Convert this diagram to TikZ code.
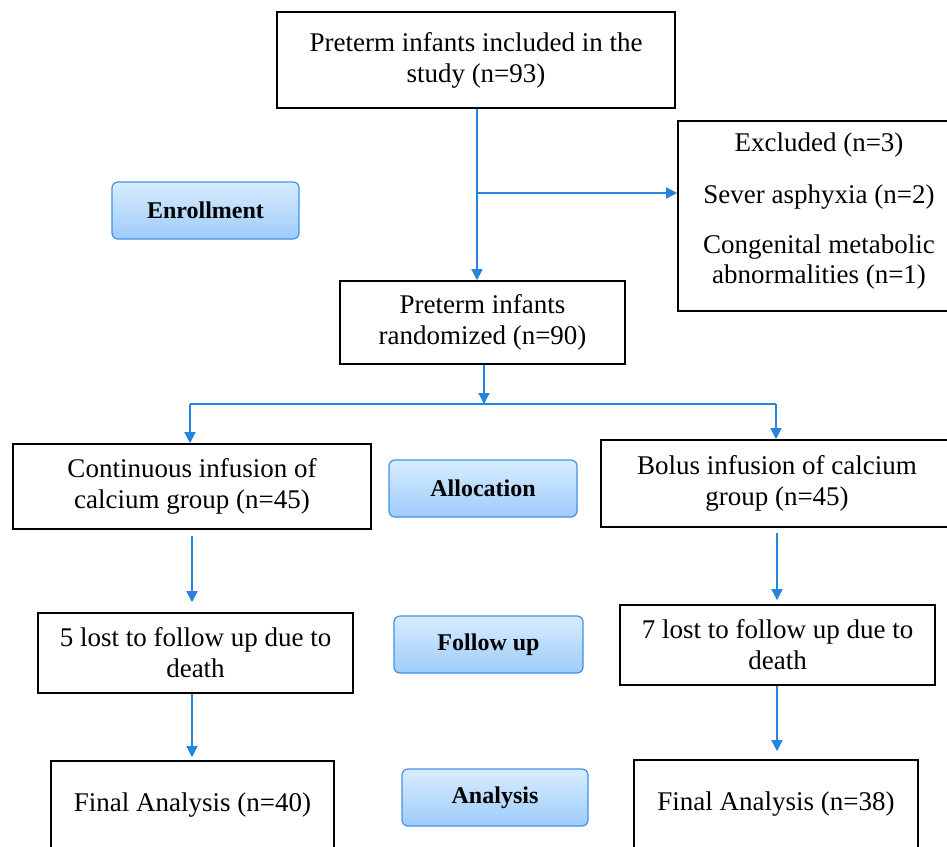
\documentclass[tikz,border=0pt]{standalone}
\usepackage{fontspec}
\setmainfont{Liberation Serif}
\usetikzlibrary{arrows.meta,calc}
\definecolor{lineblue}{RGB}{38,132,220}
\definecolor{btop}{RGB}{216,236,255}
\definecolor{bbot}{RGB}{158,204,250}
\definecolor{bborder}{RGB}{66,146,228}
\begin{document}
\begin{tikzpicture}[x=1pt,y=-1pt,
  box/.style={draw=black, line width=1.6pt, align=center, inner sep=0pt, font=\fontsize{27}{31}\selectfont},
  txt/.style={align=center, inner sep=0pt, font=\fontsize{27}{30}\selectfont},
  btn/.style={draw=bborder, line width=1.2pt, rounded corners=6pt, top color=btop, bottom color=bbot, font=\bfseries\fontsize{24}{28}\selectfont, inner sep=0pt},
  conn/.style={draw=lineblue, line width=1.3pt, -{Triangle[width=11pt,length=11pt]}},
  link/.style={draw=lineblue, line width=1.3pt}]
\useasboundingbox (0,0) rectangle (947,846);
\fill[white] (0,0) rectangle (947,846);
\clip (0,0) rectangle (947,846);

% boxes
\node[box, minimum width=398, minimum height=96] (top) at (476,60) {Preterm infants included in the\\study (n=93)};
\node[box, minimum width=282, minimum height=190] (excl) at (819,216) {};
\node[txt] (excltxt) at (819,211) {Excluded (n=3)\\[22pt]Sever asphyxia (n=2)\\[20pt]Congenital metabolic\\abnormalities (n=1)};
\node[box, minimum width=285, minimum height=83] (rand) at (482.5,322.5) {Preterm infants\\randomized (n=90)};
\node[box, minimum width=358, minimum height=85] (cont) at (192,486.5) {Continuous infusion of\\calcium group (n=45)};
\node[box, minimum width=352, minimum height=87] (bolus) at (777,483.5) {Bolus infusion of calcium\\group (n=45)};
\node[box, minimum width=315, minimum height=80] (lost5) at (195.5,653) {5 lost to follow up due to\\death};
\node[box, minimum width=315, minimum height=80] (lost7) at (777.5,645) {7 lost to follow up due to\\death};
\node[box, minimum width=283, minimum height=88] (fin40) at (192.5,805) {Final Analysis (n=40)};
\node[box, minimum width=284, minimum height=88] (fin38) at (776,804) {Final Analysis (n=38)};

% buttons
\node[btn, minimum width=187, minimum height=57] (enroll) at (205.5,210.5) {Enrollment};
\node[btn, minimum width=188, minimum height=57] (alloc) at (483,488.5) {Allocation};
\node[btn, minimum width=189, minimum height=57] (follow) at (488.5,644.5) {Follow up};
\node[btn, minimum width=186, minimum height=57] (analysis) at (495,797.5) {Analysis};

% connectors
\coordinate (br) at (477,193);
\draw[link] (br |- top.south) -- (br);
\draw[conn] (br) -- (br |- rand.north);
\draw[conn] (br) -- (br -| excl.west);

\coordinate (sp) at (484,404);
\coordinate (sl) at (190,404);
\coordinate (sr) at (776,404);
\draw[conn] (sp |- rand.south) -- (sp);
\draw[link] (sl) -- (sr);
\draw[conn] (sl) -- (sl |- cont.north);
\draw[conn] (sr) -- (sr |- bolus.north);

\draw[conn, shorten <=6pt, shorten >=10pt] (cont.south) -- (cont.south |- lost5.north);
\draw[conn, shorten <=5pt, shorten >=4pt] (bolus.south) -- (bolus.south |- lost7.north);
\draw[conn, shorten >=3pt] (cont.south |- lost5.south) -- (cont.south |- fin40.north);
\draw[conn, shorten >=8pt] (bolus.south |- lost7.south) -- (bolus.south |- fin38.north);
\end{tikzpicture}
\end{document}
